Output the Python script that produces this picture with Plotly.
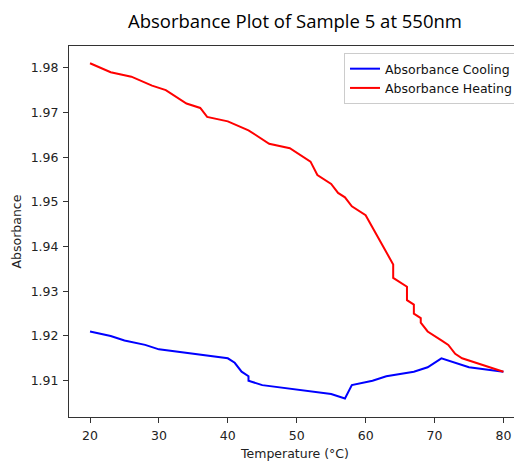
import plotly.graph_objects as go

cool_temp = [20, 23, 25, 28, 30, 40, 41, 42, 43, 43, 45, 55, 57, 58, 61, 63, 67, 69, 71, 75, 80]
cool_abs = [1.921, 1.920, 1.919, 1.918, 1.917, 1.915, 1.914, 1.912, 1.911, 1.910, 1.909,
            1.907, 1.906, 1.909, 1.910, 1.911, 1.912, 1.913, 1.915, 1.913, 1.912]

heat_temp = [20, 23, 26, 29, 31, 34, 36, 37, 40, 43, 46, 49, 52, 53, 55, 56, 57, 58, 60,
             64, 64, 66, 66, 67, 67, 68, 68, 69, 71, 72, 73, 74, 80]
heat_abs = [1.981, 1.979, 1.978, 1.976, 1.975, 1.972, 1.971, 1.969, 1.968, 1.966, 1.963,
            1.962, 1.959, 1.956, 1.954, 1.952, 1.951, 1.949, 1.947, 1.936, 1.933, 1.931,
            1.928, 1.927, 1.925, 1.924, 1.923, 1.921, 1.919, 1.918, 1.916, 1.915, 1.912]

x_ticks = [20, 30, 40, 50, 60, 70, 80]
y_ticks = [1.91, 1.92, 1.93, 1.94, 1.95, 1.96, 1.97, 1.98]

fig = go.Figure()
fig.add_trace(go.Scatter(x=cool_temp, y=cool_abs, mode="lines", name="Absorbance Cooling",
                         line=dict(color="#0000ff", width=2)))
fig.add_trace(go.Scatter(x=heat_temp, y=heat_abs, mode="lines", name="Absorbance Heating",
                         line=dict(color="#ff0000", width=2)))

font_main = "DejaVu Sans, sans-serif"
fig.update_layout(
    width=514, height=455,
    margin=dict(l=61, r=1, t=38, b=46, autoexpand=False),
    paper_bgcolor="white", plot_bgcolor="white",
    title=dict(text="Absorbance Plot of Sample 5 at 550nm", x=0.5, xref="paper", xanchor="center",
               y=1 - 13.5 / 455, yref="container", yanchor="middle",
               font=dict(family="Open Sans, Noto Sans, sans-serif", size=18.5, color="black")),
    showlegend=True,
    legend=dict(x=0.9934, y=0.981, xanchor="right", yanchor="top",
                bgcolor="white", bordercolor="#cccccc", borderwidth=1,
                font=dict(family=font_main, size=12.5, color="#111"),
                itemwidth=30, tracegroupgap=0),
    font=dict(family=font_main, size=12.5, color="black"),
)
fig.update_xaxes(range=[16.95, 82.55], tickvals=x_ticks, ticks="outside", ticklen=5,
                 tickcolor="#333", showline=True, linecolor="#333", linewidth=1,
                 mirror=True, showgrid=False, zeroline=False, automargin=False,
                 ticklabelstandoff=2,
                 tickfont=dict(family=font_main, size=12.5, color="#222"),
                 title=dict(text="Temperature (°C)", standoff=7,
                            font=dict(family=font_main, size=12.5, color="#222")))
fig.update_yaxes(range=[1.90187, 1.98486], tickvals=y_ticks, tickformat=".2f",
                 ticks="outside", ticklen=5, tickcolor="#333",
                 showline=True, linecolor="#333", linewidth=1, mirror=False,
                 showgrid=False, zeroline=False, automargin=False,
                 ticklabelstandoff=2,
                 tickfont=dict(family=font_main, size=12.5, color="#222"),
                 title=dict(text="Absorbance", standoff=6,
                            font=dict(family=font_main, size=12.5, color="#222")))

fig.write_html("out.html")
